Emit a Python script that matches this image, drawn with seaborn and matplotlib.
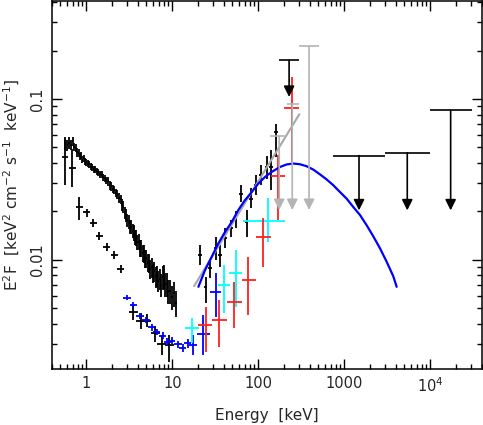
import numpy as np
import matplotlib
matplotlib.use("Agg")
import matplotlib.pyplot as plt
import seaborn as sns
from matplotlib.ticker import FixedLocator, FixedFormatter, LogLocator, NullFormatter

# ---- soft X-ray spectrum (dense black band) ----
soft_E = [0.57, 0.60, 0.63, 0.66, 0.69, 0.72, 0.75, 0.78, 0.81, 0.84, 0.87, 0.90, 0.93, 0.96,
          1.00, 1.04, 1.08, 1.12, 1.17, 1.22, 1.27, 1.32, 1.38, 1.44, 1.50, 1.57, 1.64, 1.71,
          1.78, 1.86, 1.94, 2.02, 2.11, 2.20, 2.30, 2.40, 2.50, 2.60, 2.70, 2.80, 2.90, 3.00,
          3.10, 3.20, 3.32, 3.44, 3.56, 3.68, 3.80, 3.93, 4.06, 4.20, 4.35, 4.50, 4.66, 4.82,
          5.00, 5.18, 5.37, 5.56, 5.76, 5.97, 6.19, 6.42, 6.65, 6.90, 7.15, 7.42, 7.70, 7.98,
          8.28, 8.60, 8.95, 9.40, 9.90, 10.4, 11.0]
soft_F = [0.0530, 0.0515, 0.0535, 0.0520, 0.0545, 0.0505, 0.0498, 0.0465, 0.0462, 0.0440,
          0.0445, 0.0420, 0.0430, 0.0410, 0.0405, 0.0395, 0.0392, 0.0380, 0.0377, 0.0365,
          0.0364, 0.0355, 0.0352, 0.0340, 0.0338, 0.0326, 0.0322, 0.0313, 0.0307, 0.0291,
          0.0287, 0.0276, 0.0272, 0.0260, 0.0255, 0.0242, 0.0238, 0.0220, 0.0214, 0.0196,
          0.0190, 0.0176, 0.0172, 0.0162, 0.0160, 0.0151, 0.0148, 0.0139, 0.0138, 0.0129,
          0.0130, 0.0119, 0.0118, 0.0111, 0.0110, 0.0102, 0.0102, 0.0096, 0.0096, 0.0088,
          0.0090, 0.0083, 0.0085, 0.0079, 0.0080, 0.0074, 0.0076, 0.0070, 0.0078, 0.0079,
          0.0071, 0.0071, 0.0064, 0.0064, 0.0059, 0.0062, 0.0054]
soft_ferr = [0.09, 0.08, 0.08, 0.07, 0.07, 0.06, 0.06, 0.06, 0.06, 0.05, 0.05, 0.05, 0.05, 0.05,
             0.05, 0.05, 0.05, 0.05, 0.05, 0.05, 0.05, 0.05, 0.05, 0.05, 0.05, 0.05, 0.05, 0.05,
             0.06, 0.06, 0.06, 0.06, 0.06, 0.06, 0.06, 0.07, 0.07, 0.08, 0.08, 0.09, 0.09, 0.09,
             0.10, 0.10, 0.10, 0.10, 0.11, 0.11, 0.11, 0.11, 0.12, 0.12, 0.12, 0.12, 0.13, 0.13,
             0.13, 0.13, 0.14, 0.14, 0.14, 0.14, 0.14, 0.15, 0.15, 0.15, 0.15, 0.16, 0.17, 0.17,
             0.17, 0.17, 0.17, 0.17, 0.17, 0.18, 0.18]

# ---- second black spectrum (sparse crosses, low energy) ----
low_E = [0.565, 0.676, 0.83, 1.01, 1.21, 1.42, 1.73, 2.10, 2.51, 3.52, 4.29, 5.04, 6.29, 7.53, 9.23]
low_F = [0.0436, 0.0370, 0.0213, 0.0197, 0.0170, 0.0141, 0.0120, 0.0107, 0.00879,
         0.00471, 0.00418, 0.00418, 0.00349, 0.00299, 0.00295]
low_Flo = [0.0291, 0.0284, 0.0177, 0.0186, 0.0161, 0.0133, 0.0113, 0.0101, 0.0083,
           0.0042, 0.0037, 0.0038, 0.0031, 0.00256, 0.00232]
low_Fhi = [0.0568, 0.0492, 0.0246, 0.0208, 0.0179, 0.0149, 0.0127, 0.0113, 0.0093,
           0.0053, 0.0047, 0.0046, 0.0039, 0.0034, 0.0034]
low_Elo = [0.52, 0.62, 0.755, 0.92, 1.10, 1.29, 1.57, 1.91, 2.28, 3.12, 3.80, 4.46, 5.57, 6.66, 8.17]
low_Ehi = [0.61, 0.75, 0.91, 1.11, 1.33, 1.56, 1.90, 2.31, 2.76, 3.98, 4.85, 5.70, 7.11, 8.51, 10.4]

# ---- hard X-ray black points ----
hard_E = [21.0, 24.4, 27.4, 32.0, 35.9, 41.0, 48.2, 54.6, 63.0, 73.3, 82.3, 94.0, 107, 125, 141, 161]
hard_F = [0.0107, 0.0068, 0.00885, 0.0118, 0.0107, 0.0136, 0.0157, 0.0178, 0.0258, 0.0172,
          0.0240, 0.0291, 0.0336, 0.0378, 0.0378, 0.0620]
hard_Flo = [0.0093, 0.00536, 0.00766, 0.00995, 0.00906, 0.0118, 0.0138, 0.0157, 0.0228, 0.0138,
            0.0209, 0.0252, 0.0291, 0.0320, 0.0271, 0.0436]
hard_Fhi = [0.0123, 0.00783, 0.00995, 0.0139, 0.0123, 0.0157, 0.0177, 0.0200, 0.0291, 0.0204,
            0.0279, 0.0336, 0.0387, 0.0445, 0.0480, 0.0703]

# ---- blue series ----
blue_E = [3.0, 3.52, 4.21, 4.94, 5.75, 6.59, 7.73, 8.75, 9.84, 11.6, 13.2, 15.1, 17.6, 22.9, 32.0]
blue_F = [0.00583, 0.00524, 0.00449, 0.00422, 0.00380, 0.00357, 0.00337, 0.00310, 0.00314,
          0.00298, 0.00282, 0.00303, 0.00295, 0.00346, 0.00632]
blue_Flo = [0.00562, 0.00504, 0.00431, 0.00404, 0.00363, 0.00340, 0.00320, 0.00294, 0.00298,
            0.00282, 0.00266, 0.00283, 0.00255, 0.00256, 0.00443]
blue_Fhi = [0.00604, 0.00544, 0.00467, 0.00440, 0.00397, 0.00374, 0.00354, 0.00326, 0.00330,
            0.00314, 0.00298, 0.00323, 0.00340, 0.00453, 0.00826]
blue_Elo = [2.70, 3.18, 3.82, 4.48, 5.22, 6.00, 7.03, 7.95, 8.95, 10.5, 12.0, 13.7, 15.8, 19.2, 27.4]
blue_Ehi = [3.30, 3.88, 4.63, 5.43, 6.33, 7.25, 8.50, 9.62, 10.8, 12.8, 14.5, 16.6, 19.4, 27.4, 36.7]

# ---- cyan series ----
cyan_E = [17.1, 40.2, 54.6, 131]
cyan_F = [0.00375, 0.00697, 0.0083, 0.0175]
cyan_Flo = [0.00303, 0.00465, 0.0051, 0.0129]
cyan_Fhi = [0.00433, 0.00927, 0.0115, 0.0241]
cyan_Elo = [14.1, 34.3, 46.0, 66.4]
cyan_Ehi = [20.4, 46.9, 65.2, 204]

# ---- red series ----
red_E = [24.5, 34.9, 52.6, 76.5, 114, 168, 245]
red_F = [0.00393, 0.00422, 0.00548, 0.00755, 0.0138, 0.0333, 0.0879]
red_Flo = [0.00269, 0.00288, 0.00375, 0.00454, 0.00906, 0.0177, 0.0406]
red_Fhi = [0.0051, 0.00562, 0.0073, 0.01045, 0.0181, 0.0450, 0.137]
red_Elo = [20.1, 28.7, 42.9, 64.1, 93.3, 139, 200]
red_Ehi = [29.2, 42.9, 65.2, 93.3, 141, 204, 300]

# ---- upper limits ----
ulk_E = [228, 1483, 5400, 17260]
ulk_Elo = [174, 737, 2960, 10000]
ulk_Ehi = [297, 2960, 10000, 30200]
ulk_F = [0.174, 0.0445, 0.0463, 0.0851]
ulk_tip = [0.103, 0.0203, 0.0203, 0.0203]

ulg_E = [175, 248, 389]
ulg_Elo = [137, 213, 297]
ulg_Ehi = [213, 297, 508]
ulg_F = [0.0589, 0.0927, 0.213]
ulg_tip = [0.0204, 0.0204, 0.0204]

# ---- model curves ----
model_E = [20.1, 24.0, 28.7, 34.3, 41.0, 49.1, 58.5, 70.0, 83.8, 100, 120, 143, 179, 214, 255,
           305, 365, 436, 521, 624, 745, 891, 1066, 1273, 1523, 1821, 2175, 2600, 3111, 3715, 4066]
model_F = [0.0068, 0.00863, 0.01045, 0.01265, 0.0149, 0.0172, 0.0204, 0.0235, 0.0264, 0.0298,
           0.0328, 0.0352, 0.0378, 0.0392, 0.0397, 0.0393, 0.0382, 0.0364, 0.0340, 0.0316,
           0.0291, 0.0264, 0.0240, 0.0213, 0.0190, 0.0164, 0.0140, 0.0118, 0.00973, 0.00790, 0.0068]
pl_E = [17.9, 300]
pl_F = [0.00687, 0.0804]

xtick_vals = [1, 10, 100, 1000, 1e4]
xtick_labels = ["1", "10", "100", "1000", "10$^4$"]
ytick_vals = [0.01, 0.1]
ytick_labels = ["0.01", "0.1"]

sns.set_style("ticks")
plt.rcParams["font.family"] = ["DejaVu Sans"]

fig = plt.figure(figsize=(4.83, 4.25), dpi=100)
ax = fig.add_axes([0.108, 0.132, 0.89, 0.865])
ax.set(xscale="log", yscale="log")


def asym(val, lo, hi):
    val, lo, hi = np.array(val), np.array(lo), np.array(hi)
    return [val - lo, hi - val]


ebkw = dict(fmt="none", elinewidth=1.3, capsize=0)

# soft band
sE = np.array(soft_E)
sF = np.array(soft_F)
ax.errorbar(sE, sF, xerr=[sE * 0.02, sE * 0.02], yerr=[sF * np.array(soft_ferr), sF * np.array(soft_ferr)],
            ecolor="black", **ebkw)
ax.errorbar(low_E, low_F, xerr=asym(low_E, low_Elo, low_Ehi), yerr=asym(low_F, low_Flo, low_Fhi),
            ecolor="black", **ebkw)
hE = np.array(hard_E)
ax.errorbar(hE, hard_F, xerr=[hE * 0.045, hE * 0.045], yerr=asym(hard_F, hard_Flo, hard_Fhi),
            ecolor="black", **ebkw)
ax.errorbar(blue_E, blue_F, xerr=asym(blue_E, blue_Elo, blue_Ehi), yerr=asym(blue_F, blue_Flo, blue_Fhi),
            ecolor="#0000ff", **ebkw)
ax.errorbar(cyan_E, cyan_F, xerr=asym(cyan_E, cyan_Elo, cyan_Ehi), yerr=asym(cyan_F, cyan_Flo, cyan_Fhi),
            ecolor="#00ffff", **ebkw)
ax.errorbar(red_E, red_F, xerr=asym(red_E, red_Elo, red_Ehi), yerr=asym(red_F, red_Flo, red_Fhi),
            ecolor="#ff2020", **ebkw)

# model lines
sns.lineplot(x=pl_E, y=pl_F, color="#a8a8a8", lw=1.5, ax=ax)
sns.lineplot(x=model_E, y=model_F, color="#0000ff", lw=1.6, ax=ax)


# upper limits
def upper_limits(E, Elo, Ehi, F, tip, color):
    ax.hlines(F, Elo, Ehi, color=color, lw=1.2)
    for e, f, t in zip(E, F, tip):
        ax.annotate("", xy=(e, t), xytext=(e, f),
                    arrowprops=dict(arrowstyle="-|>", color=color, lw=1.2,
                                    mutation_scale=16, shrinkA=0, shrinkB=0))


upper_limits(ulg_E, ulg_Elo, ulg_Ehi, ulg_F, ulg_tip, "#b4b4b4")
upper_limits(ulk_E, ulk_Elo, ulk_Ehi, ulk_F, ulk_tip, "black")

ax.set_xlim(0.4, 4e4)
ax.set_ylim(0.0021, 0.405)

ax.xaxis.set_major_locator(FixedLocator(xtick_vals))
ax.xaxis.set_major_formatter(FixedFormatter(xtick_labels))
ax.xaxis.set_minor_locator(LogLocator(base=10, subs=np.arange(2, 10)))
ax.xaxis.set_minor_formatter(NullFormatter())
ax.yaxis.set_major_locator(FixedLocator(ytick_vals))
ax.yaxis.set_major_formatter(FixedFormatter(ytick_labels))
ax.yaxis.set_minor_locator(LogLocator(base=10, subs=np.arange(2, 10)))
ax.yaxis.set_minor_formatter(NullFormatter())

ax.tick_params(which="both", direction="in", top=True, right=True, color="black", width=1.0)
ax.tick_params(which="major", length=7, labelsize=10.5, pad=5)
ax.tick_params(which="minor", length=3.5)
plt.setp(ax.get_yticklabels(), rotation=90, va="center")
for s in ax.spines.values():
    s.set_linewidth(1.1)
    s.set_color("black")

ax.set_xlabel("Energy  [keV]", fontsize=11, labelpad=10)
ax.set_ylabel("E$^2$F  [keV$^2$ cm$^{-2}$ s$^{-1}$  keV$^{-1}$]", fontsize=11, labelpad=6)

fig.savefig("out.png", dpi=100)
